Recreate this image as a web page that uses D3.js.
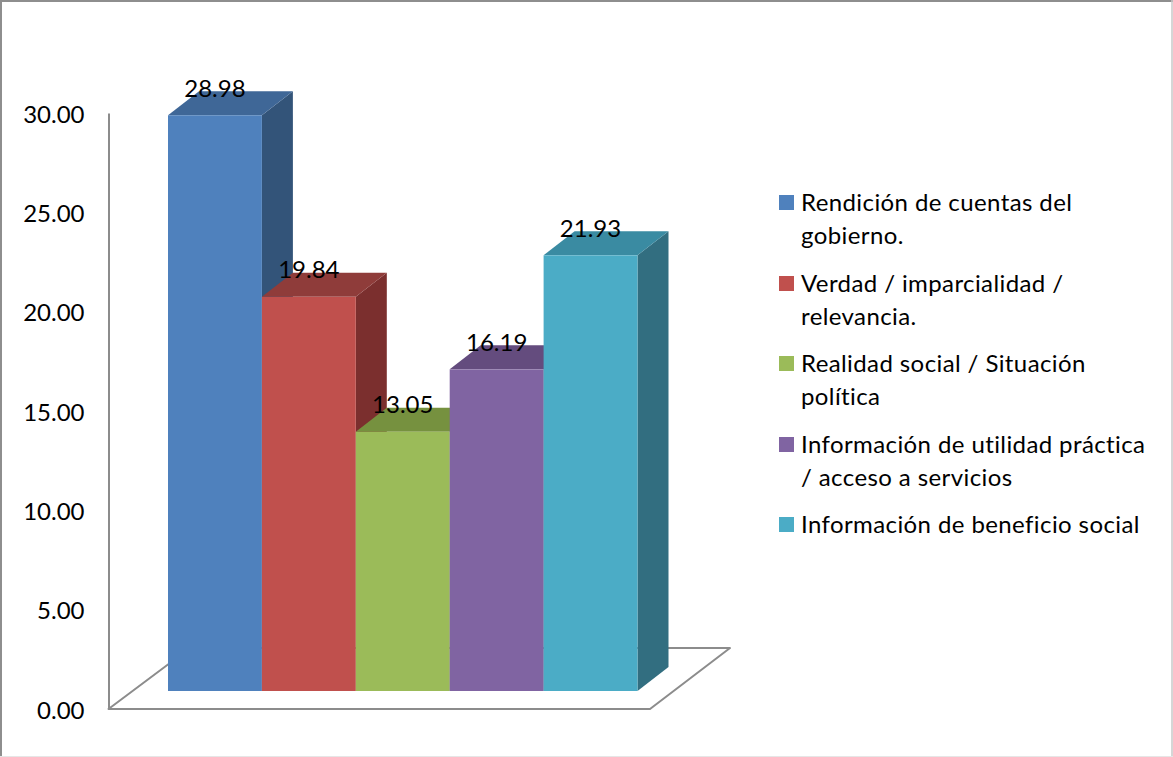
<!DOCTYPE html>
<html lang="es">
<head>
<meta charset="utf-8">
<script src="https://cdn.jsdelivr.net/npm/d3@7"></script>
<style>
  html, body { margin: 0; padding: 0; background: #fff; }
  svg { display: block; }
  text { font-family: Lato, "Open Sans", sans-serif; fill: #000; font-variant-ligatures: none; }
</style>
</head>
<body>
<svg id="chart" width="1173" height="757"></svg>
<script>
const categories = ["Rendición de cuentas del gobierno.", "Verdad / imparcialidad / relevancia.", "Realidad social / Situación política", "Información de utilidad práctica / acceso a servicios", "Información de beneficio social"];
const values = [28.98, 19.84, 13.05, 16.19, 21.93];
const legendLines = [["Rendición de cuentas del", "gobierno."], ["Verdad / imparcialidad /", "relevancia."], ["Realidad social / Situación", "política"], ["Información de utilidad práctica", "/ acceso a servicios"], ["Información de beneficio social"]];
const axisTicks = [0, 5, 10, 15, 20, 25, 30];
const faceColors = ["#4f81bd", "#c0504d", "#9bbb59", "#8064a2", "#4bacc6"];
const topColors = ["#3f6797", "#8f3c3a", "#76913f", "#644c7e", "#3a8ba2"];
const sideColors = ["#335479", "#7b2f2e", "#63783a", "#534069", "#326e80"];

const svg = d3.select("#chart");
const gray = "#8c8c8c";

// Outer chart frame: darker on the top and left edges, faint on the others
const frame = [
  { x1: 1, y1: 0, x2: 1, y2: 757, stroke: "#8e8e8e", width: 2 },
  { x1: 0, y1: 1, x2: 1173, y2: 1, stroke: "#8e8e8e", width: 2 },
  { x1: 1172, y1: 0, x2: 1172, y2: 757, stroke: "#c8c8c8", width: 1.5 },
  { x1: 0, y1: 756.5, x2: 1173, y2: 756.5, stroke: "#e6e6e6", width: 1 }
];
svg.append("g").selectAll("line").data(frame).join("line")
  .attr("x1", d => d.x1).attr("y1", d => d.y1).attr("x2", d => d.x2).attr("y2", d => d.y2)
  .attr("stroke", d => d.stroke).attr("stroke-width", d => d.width);

const y = d3.scaleLinear().domain([0, 30]).range([709, 113]);
const x = d3.scaleBand().domain(categories).range([168, 637.5]).padding(0);

// Oblique projection: offset of the bars from the axis plane and their depth
const front = { dx: 0, dy: -18 };
const depth = { dx: 31, dy: -24 };

// Floor of the 3D plot
const floor = [[108.5, 709], [650, 709], [730, 648], [190, 648]];
svg.append("path")
  .attr("d", d3.line()(floor) + "Z")
  .attr("fill", "none").attr("stroke", gray).attr("stroke-width", 2).attr("stroke-linejoin", "round");

// Value axis, no tick marks
const axis = d3.axisLeft(y).tickValues(axisTicks).tickSize(0).tickPadding(24).tickFormat(d3.format(".2f"));
const axisG = svg.append("g").attr("transform", "translate(108.5,0)").call(axis);
axisG.select(".domain").attr("stroke", gray).attr("stroke-width", 2);
axisG.selectAll("text").attr("font-size", 24).attr("dy", "0.38em")
  .style("font-family", "Lato, 'Open Sans', sans-serif").attr("fill", "#000");

const bars = svg.append("g").selectAll("g").data(categories).join("g");
const poly = pts => d3.line()(pts) + "Z";
const base = y(0) + front.dy;
const topOf = i => y(values[i]) + front.dy;

bars.append("path").attr("fill", (d, i) => sideColors[i]).attr("d", (d, i) => {
  const r = x(d) + x.bandwidth();
  return poly([[r, topOf(i)], [r + depth.dx, topOf(i) + depth.dy], [r + depth.dx, base + depth.dy], [r, base]]);
});
bars.append("path").attr("fill", (d, i) => topColors[i]).attr("d", (d, i) => {
  const l = x(d), r = l + x.bandwidth(), t = topOf(i);
  return poly([[l, t], [r, t], [r + depth.dx, t + depth.dy], [l + depth.dx, t + depth.dy]]);
});
bars.append("rect").attr("fill", (d, i) => faceColors[i])
  .attr("x", d => x(d)).attr("width", x.bandwidth())
  .attr("y", (d, i) => topOf(i)).attr("height", (d, i) => base - topOf(i));

// Value labels sit across the top face of each bar
svg.append("g").selectAll("text").data(categories).join("text")
  .attr("x", d => x(d) + x.bandwidth() / 2)
  .attr("y", (d, i) => topOf(i) - 18.5)
  .attr("text-anchor", "middle").attr("font-size", 24)
  .text((d, i) => values[i].toFixed(2));

// Legend
const legendRow = d3.scaleOrdinal().domain(categories).range([211, 292, 372, 453, 533]);
const legend = svg.append("g").selectAll("g").data(categories).join("g");
legend.append("rect").attr("x", 779).attr("width", 15).attr("height", 15)
  .attr("y", d => legendRow(d) - 16).attr("fill", (d, i) => faceColors[i]);
legend.append("text").attr("font-size", 24).attr("letter-spacing", 0.4).each(function (d, i) {
  d3.select(this).selectAll("tspan").data(legendLines[i]).join("tspan")
    .attr("x", 801).attr("y", (line, j) => legendRow(d) + j * 32.5).text(line => line);
});
</script>
</body>
</html>
